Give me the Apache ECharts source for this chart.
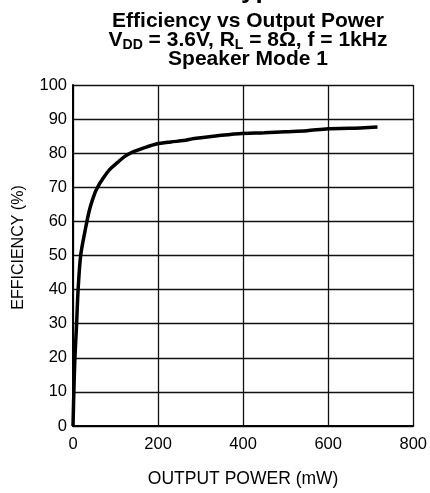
<!DOCTYPE html>
<html>
<head>
<meta charset="utf-8">
<script src="https://cdn.jsdelivr.net/npm/echarts@6/dist/echarts.min.js"></script>
<style>
  html, body { margin: 0; padding: 0; background: #fff; }
  #chart { width: 430px; height: 493px; }
</style>
</head>
<body>
<div id="chart"></div>
<script>
// output power (mW) vs efficiency (%)
const outputPower = [0, 2, 4.5, 8.5, 12, 18, 28, 39, 52, 59, 70, 86, 105, 121, 140, 170, 196, 230, 260, 285, 330, 390, 450, 500, 550, 600, 650, 716];
const efficiency = [0, 10, 20, 30, 40, 50, 57, 63.5, 68.5, 70.3, 72.5, 75.2, 77.3, 79, 80.3, 81.7, 82.7, 83.3, 83.7, 84.3, 85, 85.7, 86, 86.3, 86.6, 87.2, 87.3, 87.7];

const xTicks = [0, 200, 400, 600, 800];
const yTicks = [0, 10, 20, 30, 40, 50, 60, 70, 80, 90, 100];

const FONT = '"Liberation Sans", Arial, sans-serif';

const chart = echarts.init(document.getElementById('chart'));

const option = {
  animation: false,
  backgroundColor: '#fff',
  title: [
    {
      // page heading, cut off at the top edge
      text: 'Typical Performance Characteristics',
      left: 222,
      top: -27,
      textStyle: { fontFamily: FONT, fontSize: 26, fontWeight: 'bold', color: '#000' }
    },
    {
      text: 'Efficiency vs Output Power\n{n|V}{s|DD}{n| = 3.6V, R}{s|L}{n| = 8Ω, f = 1kHz}\nSpeaker Mode 1',
      left: 243,
      top: 7,
      textAlign: 'center',
      textStyle: {
        fontFamily: FONT, fontSize: 21, fontWeight: 'bold', color: '#000', lineHeight: 19,
        rich: {
          n: { fontFamily: FONT, fontSize: 21, fontWeight: 'bold', color: '#000', lineHeight: 19 },
          s: { fontFamily: FONT, fontSize: 14, fontWeight: 'bold', color: '#000', lineHeight: 19, padding: [9, 0, 0, 0] }
        }
      }
    }
  ],
  graphic: [
    {
      type: 'text',
      x: 18.5,
      y: 247.5,
      rotation: Math.PI / 2,
      style: {
        text: 'EFFICIENCY (%)',
        fontFamily: FONT, fontSize: 16, fill: '#000',
        align: 'center', verticalAlign: 'middle'
      }
    }
  ],
  grid: { left: 73, right: 12, top: 85, bottom: 65 },
  xAxis: {
    type: 'value',
    min: xTicks[0],
    max: xTicks[xTicks.length - 1],
    interval: 200,
    name: 'OUTPUT POWER (mW)',
    nameLocation: 'middle',
    nameGap: 44,
    nameTextStyle: { fontFamily: FONT, fontSize: 17.5, color: '#000' },
    axisLine: { show: true, lineStyle: { color: '#000', width: 2 } },
    axisTick: { show: false },
    axisLabel: { fontFamily: FONT, fontSize: 16.5, color: '#000', margin: 10 },
    splitLine: { show: true, lineStyle: { color: '#111', width: 1.3 } }
  },
  yAxis: {
    type: 'value',
    min: yTicks[0],
    max: yTicks[yTicks.length - 1],
    interval: 10,
    axisLine: { show: true, lineStyle: { color: '#000', width: 2 } },
    axisTick: { show: false },
    axisLabel: { fontFamily: FONT, fontSize: 16.5, color: '#000', margin: 6 },
    splitLine: { show: true, lineStyle: { color: '#111', width: 1.3 } }
  },
  series: [
    {
      type: 'line',
      data: outputPower.map((p, i) => [p, efficiency[i]]),
      smooth: 0.3,
      showSymbol: false,
      lineStyle: { color: '#000', width: 3.5 }
    }
  ]
};

chart.setOption(option);
</script>
</body>
</html>
